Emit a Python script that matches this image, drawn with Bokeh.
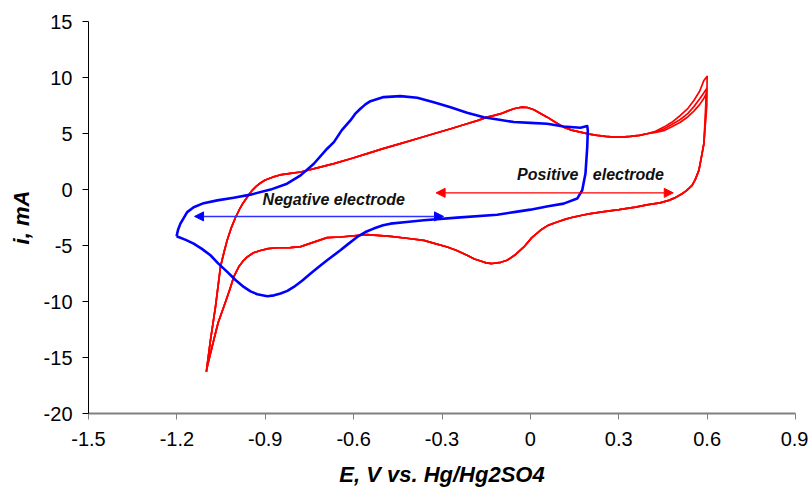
from bokeh.plotting import figure
from bokeh.models import Range1d, FixedTicker, Arrow, NormalHead, Label, CustomJSTickFormatter
from bokeh.embed import file_html
from bokeh.resources import INLINE

# ---------------- data ----------------
x_ticks = [-1.5, -1.2, -0.9, -0.6, -0.3, 0, 0.3, 0.6, 0.9]
y_ticks = [-20, -15, -10, -5, 0, 5, 10, 15]

# Negative electrode CV (blue)
blue_E = [-1.201, -1.196, -1.188, -1.165, -1.143, -1.109, -1.063, -1.007, -0.950, -0.882,
          -0.826, -0.780, -0.735, -0.690, -0.667, -0.640, -0.611, -0.595, -0.577, -0.560,
          -0.543, -0.498, -0.441, -0.384, -0.328, -0.271, -0.215, -0.158, -0.100, -0.056,
          0.000, 0.057, 0.113, 0.170, 0.193, 0.195, 0.193, 0.187, 0.176, 0.159,
          0.113, 0.060, 0.000, -0.050, -0.113, -0.249, -0.362, -0.420, -0.475, -0.500,
          -0.532, -0.560, -0.588, -0.620, -0.645, -0.690, -0.720, -0.746, -0.775, -0.803,
          -0.825, -0.848, -0.870, -0.893, -0.927, -0.950, -0.973, -1.000, -1.029, -1.060,
          -1.086, -1.115, -1.143, -1.170, -1.201]
blue_i = [-4.18, -3.60, -3.05, -2.02, -1.58, -1.22, -0.97, -0.73, -0.46, -0.01,
          0.52, 1.26, 2.30, 3.64, 4.23, 5.30, 6.17, 6.75, 7.21, 7.60,
          7.89, 8.25, 8.34, 8.19, 7.80, 7.35, 6.85, 6.45, 6.20, 6.02,
          5.95, 5.87, 5.63, 5.52, 5.66, 5.28, 3.79, 1.42, -0.07, -0.81,
          -1.26, -1.50, -1.80, -2.00, -2.25, -2.51, -2.75, -2.90, -3.05, -3.20,
          -3.49, -3.80, -4.24, -4.90, -5.43, -6.32, -6.95, -7.51, -8.15, -8.70,
          -9.05, -9.29, -9.45, -9.53, -9.35, -9.10, -8.70, -8.10, -7.36, -6.60,
          -5.87, -5.30, -4.83, -4.50, -4.18]

# Positive electrode CV (red): common anodic part, three cycle tails near 0.6 V, common cathodic part
red_up_E = [-1.100, -1.086, -1.069, -1.052, -1.040, -1.029, -1.015, -1.001, -0.988, -0.975,
            -0.956, -0.945, -0.930, -0.915, -0.900, -0.875, -0.850, -0.820, -0.780, -0.720,
            -0.667, -0.610, -0.554, -0.500, -0.441, -0.385, -0.328, -0.270, -0.215, -0.180,
            -0.147, -0.125, -0.100, -0.078, -0.056, -0.040, -0.028, -0.010, 0.012, 0.030,
            0.057, 0.085, 0.113, 0.140, 0.170, 0.200, 0.227, 0.255, 0.283, 0.310,
            0.340, 0.370, 0.396]
red_up_i = [-16.28, -13.46, -10.49, -6.90, -5.60, -4.50, -3.40, -2.50, -1.80, -1.20,
            -0.50, -0.10, 0.30, 0.60, 0.85, 1.10, 1.30, 1.42, 1.56, 1.95,
            2.31, 2.75, 3.20, 3.65, 4.09, 4.53, 4.98, 5.42, 5.87, 6.15,
            6.46, 6.60, 6.77, 7.00, 7.21, 7.30, 7.36, 7.32, 7.12, 6.85,
            6.46, 6.00, 5.57, 5.30, 5.12, 4.95, 4.83, 4.74, 4.68, 4.68,
            4.74, 4.83, 4.98]

tail1_E = [0.425, 0.453, 0.480, 0.509, 0.535, 0.555, 0.575, 0.589, 0.600, 0.599]
tail1_i = [5.20, 5.57, 6.00, 6.61, 7.25, 7.95, 8.80, 9.74, 10.10, 7.50]
tail2_E = [0.425, 0.453, 0.480, 0.509, 0.535, 0.555, 0.575, 0.588, 0.598, 0.596]
tail2_i = [5.15, 5.40, 5.80, 6.25, 6.80, 7.40, 8.10, 8.60, 9.00, 7.00]
tail3_E = [0.425, 0.453, 0.480, 0.509, 0.535, 0.555, 0.575, 0.588, 0.597, 0.594]
tail3_i = [5.10, 5.25, 5.60, 6.00, 6.50, 7.00, 7.60, 8.10, 8.55, 6.80]

red_down_E = [0.589, 0.580, 0.572, 0.560, 0.549, 0.530, 0.515, 0.490, 0.470, 0.440,
              0.400, 0.357, 0.301, 0.250, 0.204, 0.175, 0.147, 0.120, 0.091, 0.060,
              0.034, 0.005, -0.022, -0.050, -0.079, -0.100, -0.130, -0.150, -0.169, -0.190,
              -0.215, -0.250, -0.282, -0.320, -0.362, -0.420, -0.475, -0.554, -0.645, -0.690,
              -0.735, -0.780, -0.815, -0.859, -0.890, -0.916, -0.940, -0.960, -0.973, -0.990,
              -1.007, -1.020, -1.041, -1.060, -1.075, -1.097, -1.100]
red_down_i = [4.09, 2.80, 1.71, 0.90, 0.37, -0.10, -0.38, -0.75, -0.97, -1.20,
              -1.35, -1.57, -1.80, -1.97, -2.15, -2.30, -2.46, -2.65, -2.90, -3.20,
              -3.64, -4.30, -5.13, -5.80, -6.32, -6.50, -6.61, -6.55, -6.38, -6.20,
              -5.87, -5.45, -5.13, -4.85, -4.54, -4.35, -4.18, -4.03, -4.24, -4.30,
              -4.70, -5.10, -5.19, -5.20, -5.28, -5.45, -5.65, -6.00, -6.32, -6.90,
              -7.81, -8.90, -10.49, -11.90, -13.46, -15.84, -16.28]

# annotation arrows (potential windows)
neg_arrow_E = [-1.14, -0.295]
neg_arrow_i = -2.4
pos_arrow_E = [-0.32, 0.485]
pos_arrow_i = -0.3

# ---------------- figure ----------------
FONT = "Liberation Sans"

p = figure(width=808, height=491, output_backend="svg", toolbar_location=None,
           x_range=Range1d(-1.5, 0.9), y_range=Range1d(-20, 15),
           min_border_left=88, min_border_right=13, min_border_top=21, min_border_bottom=78)
p.xgrid.visible = False
p.ygrid.visible = False
p.outline_line_color = None
p.background_fill_color = "white"
p.border_fill_color = "white"

fmt = CustomJSTickFormatter(code="return tick.toString();")
for ax, col in ((p.xaxis, "#808080"), (p.yaxis, "black")):
    ax.minor_tick_line_color = None
    ax.major_tick_in = 0
    ax.major_tick_out = 6
    ax.axis_line_color = col
    ax.major_tick_line_color = col
    ax.formatter = fmt
    ax.major_label_text_font = FONT
    ax.major_label_text_font_size = "20px"
    ax.major_label_text_color = "black"
    ax.axis_label_text_font = FONT
    ax.axis_label_text_font_size = "22px"
    ax.axis_label_text_font_style = "bold italic"
    ax.axis_label_text_color = "black"

p.xaxis.axis_line_width = 2
p.xaxis.ticker = FixedTicker(ticks=x_ticks)
p.yaxis.ticker = FixedTicker(ticks=y_ticks)
p.xaxis.axis_label = "E, V vs. Hg/Hg2SO4"
p.yaxis.axis_label = "i, mA"
p.xaxis.major_label_standoff = 12
p.xaxis.axis_label_standoff = 13
p.yaxis.major_label_standoff = 10
p.yaxis.axis_label_standoff = 7

# red cycles
red_xs = [red_up_E + t + red_down_E for t in (tail1_E, tail2_E, tail3_E)]
red_ys = [red_up_i + t + red_down_i for t in (tail1_i, tail2_i, tail3_i)]
p.multi_line(red_xs, red_ys, line_color="#ff0000", line_width=1.7, line_join="round")

# blue cycle
p.line(blue_E, blue_i, line_color="#0000ff", line_width=2.6, line_join="round")

# arrows
p.add_layout(Arrow(x_start=neg_arrow_E[0], y_start=neg_arrow_i, x_end=neg_arrow_E[1], y_end=neg_arrow_i,
                   line_color="#3030ff", line_width=1.5,
                   start=NormalHead(size=9, fill_color="#0000ff", line_color="#0000ff"),
                   end=NormalHead(size=9, fill_color="#0000ff", line_color="#0000ff")))
p.add_layout(Arrow(x_start=pos_arrow_E[0], y_start=pos_arrow_i, x_end=pos_arrow_E[1], y_end=pos_arrow_i,
                   line_color="#ff0000", line_width=1.2,
                   start=NormalHead(size=9, fill_color="#ff0000", line_color="#ff0000"),
                   end=NormalHead(size=9, fill_color="#ff0000", line_color="#ff0000")))

# labels
for txt, xx, yy in (("Negative electrode", -0.909, -0.85),
                    ("Positive", -0.045, 1.3),
                    ("electrode", 0.212, 1.3)):
    p.add_layout(Label(x=xx, y=yy, text=txt, text_font=FONT, text_font_size="16px",
                       text_font_style="bold italic", text_color="#111111",
                       text_align="left", text_baseline="middle"))

open("out.html", "w").write(file_html(p, INLINE))
